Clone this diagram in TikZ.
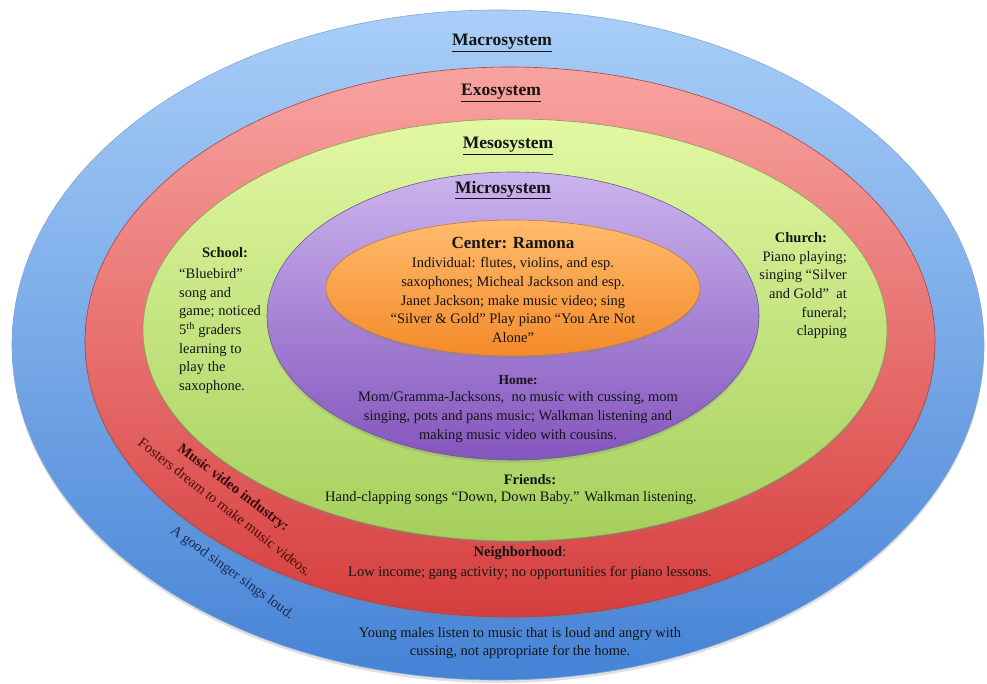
\documentclass[tikz,border=0pt]{standalone}
\usepackage{fontspec}
\setmainfont{Liberation Serif}
\usetikzlibrary{shadows}
\definecolor{bluT}{HTML}{A9CEF8}
\definecolor{bluB}{HTML}{4683D6}
\definecolor{bluL}{HTML}{7FA8DA}
\definecolor{redT}{HTML}{F8A3A0}
\definecolor{redB}{HTML}{D63E3E}
\definecolor{redL}{HTML}{A84444}
\definecolor{grnT}{HTML}{E2F8A3}
\definecolor{grnB}{HTML}{A5CF5C}
\definecolor{grnL}{HTML}{8A9E55}
\definecolor{purT}{HTML}{CBB4EE}
\definecolor{purB}{HTML}{8455BD}
\definecolor{purL}{HTML}{6E5A8E}
\definecolor{orgT}{HTML}{FFBB6C}
\definecolor{orgB}{HTML}{F48A2A}
\definecolor{orgL}{HTML}{C07A3A}
\definecolor{txt}{HTML}{141414}
\definecolor{txtred}{HTML}{4A0C0C}
\definecolor{txtblu}{HTML}{1B2A55}
\begin{document}
\begin{tikzpicture}[x=1pt,y=-1pt,
  ringshadow/.style={drop shadow={shadow xshift=0pt,shadow yshift=-3pt,opacity=0.25}},
  bodytxt/.style={font=\fontsize{14.5}{18.6}\selectfont, text=txt, inner sep=0pt},
  headtxt/.style={font=\fontsize{17.5}{21}\selectfont\bfseries, text=txt, inner sep=0pt},
  labtxt/.style={font=\fontsize{14.5}{18.6}\selectfont\bfseries, text=txt, inner sep=0pt}]
\useasboundingbox (0,0) rectangle (987,684);
\fill[white] (0,0) rectangle (987,684);
% rings
\path[top color=bluT, bottom color=bluB, draw=bluL, line width=0.6pt, ringshadow]
  (498,345) ellipse [x radius=486pt, y radius=335pt];
\path[top color=redT, bottom color=redB, draw=redL, line width=0.6pt, ringshadow]
  (510,342) ellipse [x radius=425pt, y radius=275pt];
\path[top color=grnT, bottom color=grnB, draw=grnL, line width=0.6pt, ringshadow]
  (515,330) ellipse [x radius=372pt, y radius=211pt];
\path[top color=purT, bottom color=purB, draw=purL, line width=0.6pt, ringshadow]
  (513,316) ellipse [x radius=246pt, y radius=144pt];
\path[top color=orgT, bottom color=orgB, draw=orgL, line width=0.6pt, ringshadow]
  (513,288) ellipse [x radius=187pt, y radius=68pt];
% headings
\node[headtxt] (macro) at (502,43) {\underline{Macrosystem}};
\node[headtxt] (exo) at (501,93) {\underline{Exosystem}};
\node[headtxt] (meso) at (508,146) {\underline{Mesosystem}};
\node[headtxt] (micro) at (503,190) {\underline{Microsystem}};
% center
\node[headtxt, font=\fontsize{17}{21}\selectfont\bfseries] (center) at (513,243) {Center: Ramona};
\node[bodytxt, align=center] (indiv) at (513,300) {Individual: flutes, violins, and esp.\\saxophones; Micheal Jackson and esp.\\Janet Jackson; make music video; sing\\“Silver \& Gold” Play piano “You Are Not\\Alone”};
% school
\node[labtxt] (school) at (225,253) {School:};
\node[bodytxt, align=left, anchor=west] (schoolb) at (179,331) {“Bluebird”\\song and\\game; noticed\\5\textsuperscript{th} graders\\learning to\\play the\\saxophone.};
% church
\node[labtxt] (church) at (801,238) {Church:};
\node[bodytxt, align=right, anchor=east] (churchb) at (847,295) {Piano playing;\\singing “Silver\\and Gold”\ \ at\\funeral;\\clapping};
% home
\node[labtxt, font=\fontsize{13.5}{17}\selectfont\bfseries] (home) at (518,380) {Home:};
\node[bodytxt, align=center] (homeb) at (518,417) {Mom/Gramma-Jacksons,\ \ no music with cussing, mom\\singing, pots and pans music; Walkman listening and\\making music video with cousins.};
% friends
\node[labtxt] (friends) at (530,480) {Friends:};
\node[bodytxt] (friendsb) at (511,498) {Hand-clapping songs “Down, Down Baby.” Walkman listening.};
% neighborhood
\node[bodytxt] (neigh) at (520,553) {\textbf{Neighborhood}:};
\node[bodytxt] (neighb) at (530,573) {Low income; gang activity; no opportunities for piano lessons.};
% macro text
\node[bodytxt, align=center] (young) at (520,643) {Young males listen to music that is loud and angry with\\cussing, not appropriate for the home.};
% rotated left texts
\node[labtxt, rotate=-37, text=txtred!80!black] (mvi) at (233,488) {Music video industry:};
\node[bodytxt, rotate=-38, text=txtred] (fost) at (225,507) {Fosters dream to make music videos.};
\node[bodytxt, rotate=-36, text=txtblu] (sing) at (232,573) {A good singer sings loud.};
\end{tikzpicture}
\end{document}
